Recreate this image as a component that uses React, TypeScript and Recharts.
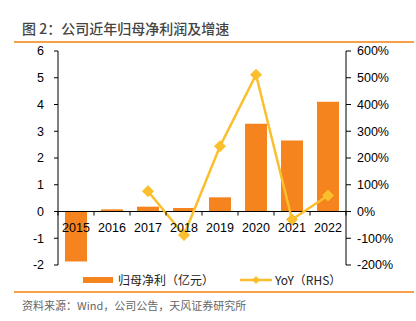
import React from 'react';
import { ComposedChart, Bar, Line, XAxis, YAxis, ReferenceLine } from 'recharts';

const years = ['2015', '2016', '2017', '2018', '2019', '2020', '2021', '2022'];
const profit = [-1.87, 0.08, 0.18, 0.13, 0.53, 3.28, 2.65, 4.1];
const yoy: (number | null)[] = [null, null, 76, -88, 244, 511, -30, 60];
const leftTicks = [-2, -1, 0, 1, 2, 3, 4, 5, 6];
const rightTicks = [-200, -100, 0, 100, 200, 300, 400, 500, 600];

const data = years.map((y, i) => ({ year: y, profit: profit[i], yoy: yoy[i] }));

const BAR = '#F5841F';
const LINE = '#FBBF2D';
const W = 416;
const H = 321;
const X_H = 1;
const M = { top: 51, right: 0, bottom: 55, left: 0 };
const LEFT_W = 58;
const RIGHT_W = 70;
const plotH = H - M.top - M.bottom - X_H;
const lMin = leftTicks[0];
const lMax = leftTicks[leftTicks.length - 1];
const zeroY = M.top + ((lMax - 0) / (lMax - lMin)) * plotH;
const plotW = W - LEFT_W - RIGHT_W;
const band = plotW / years.length;
const FONT = 'Arial, "Liberation Sans", sans-serif';

const XTick = (props: any) => {
  const { x, payload, index } = props;
  return (
    <g>
      <line x1={x - band / 2} x2={x - band / 2} y1={zeroY} y2={zeroY + 4} stroke="#000" strokeWidth={1} />
      {index === years.length - 1 && (
        <line x1={x + band / 2} x2={x + band / 2} y1={zeroY} y2={zeroY + 4} stroke="#000" strokeWidth={1} />
      )}
      <text x={x} y={zeroY + 20.5} textAnchor="middle" fontSize={12.5} fontFamily={FONT} fill="#000">
        {payload.value}
      </text>
    </g>
  );
};

const Diamond = (props: any) => {
  const { cx, cy, value } = props;
  if (value == null || cx == null || cy == null) return <g />;
  const r = 5.5;
  return (
    <path d={`M${cx},${cy - r} L${cx + r},${cy} L${cx},${cy + r} L${cx - r},${cy} Z`} fill={LINE} stroke={LINE} />
  );
};

export default function App() {
  return (
    <div style={{ position: 'absolute', left: 0, top: 0, width: W, height: H, background: '#fff', fontFamily: FONT }}>
      <div
        style={{
          position: 'absolute',
          left: 22,
          top: 18,
          fontSize: 14,
          fontWeight: 500,
          color: '#444',
          fontFamily: '"Noto Sans CJK SC", sans-serif',
          whiteSpace: 'nowrap',
          lineHeight: '20px',
        }}
      >
        图 2：公司近年归母净利润及增速
      </div>
      <div style={{ position: 'absolute', left: 14, top: 41, width: 400, height: 1.5, background: '#F7A04A' }} />
      <div style={{ position: 'absolute', left: 0, top: 0 }}>
        <ComposedChart width={W} height={H} data={data} margin={M}>
          <XAxis
            dataKey="year"
            height={X_H}
            axisLine={false}
            tickLine={false}
            tick={<XTick />}
            interval={0}
          />
          <YAxis
            yAxisId="left"
            width={LEFT_W}
            domain={[lMin, lMax]}
            ticks={leftTicks}
            interval={0}
            axisLine={{ stroke: '#000' }}
            tickLine={{ stroke: '#000' }}
            tickSize={4}
            tickMargin={10}
            tick={{ fontSize: 12.5, fill: '#000', fontFamily: FONT }}
          />
          <YAxis
            yAxisId="right"
            orientation="right"
            width={RIGHT_W}
            domain={[-200, 600]}
            ticks={rightTicks}
            interval={0}
            tickFormatter={(v: number) => `${v}%`}
            axisLine={{ stroke: '#000' }}
            tickLine={{ stroke: '#000' }}
            tickSize={5}
            tickMargin={6}
            tick={{ fontSize: 12.5, fill: '#000', fontFamily: FONT, textAnchor: 'start' }}
          />
          <Bar yAxisId="left" dataKey="profit" fill={BAR} barSize={22} isAnimationActive={false} />
          <ReferenceLine yAxisId="left" y={0} stroke="#000" strokeWidth={1} />
          <Line
            yAxisId="right"
            dataKey="yoy"
            stroke={LINE}
            strokeWidth={2.5}
            dot={<Diamond />}
            activeDot={false}
            isAnimationActive={false}
            connectNulls={false}
          />
        </ComposedChart>
      </div>
      <div style={{ position: 'absolute', left: 83, top: 277, width: 30, height: 6, background: BAR }} />
      <div
        style={{
          position: 'absolute',
          left: 118,
          top: 271,
          fontSize: 12,
          color: '#222',
          fontFamily: '"Noto Sans CJK SC", sans-serif',
          lineHeight: '18px',
          whiteSpace: 'nowrap',
        }}
      >
        归母净利（亿元）
      </div>
      <svg style={{ position: 'absolute', left: 238, top: 274 }} width={36} height={12}>
        <line x1={2} x2={34} y1={6} y2={6} stroke={LINE} strokeWidth={2.5} />
        <path d="M18,2 L22,6 L18,10 L14,6 Z" fill={LINE} />
      </svg>
      <div
        style={{
          position: 'absolute',
          left: 275,
          top: 271,
          fontSize: 12,
          color: '#222',
          fontFamily: '"Noto Sans CJK SC", sans-serif',
          lineHeight: '18px',
          whiteSpace: 'nowrap',
        }}
      >
        YoY（RHS）
      </div>
      <div style={{ position: 'absolute', left: 14, top: 291, width: 400, height: 1.5, background: '#F7A04A' }} />
      <div
        style={{
          position: 'absolute',
          left: 22,
          top: 297,
          fontSize: 11,
          color: '#666',
          fontFamily: '"Noto Sans CJK SC", sans-serif',
          lineHeight: '16px',
          whiteSpace: 'nowrap',
        }}
      >
        资料来源：Wind，公司公告，天风证券研究所
      </div>
    </div>
  );
}
